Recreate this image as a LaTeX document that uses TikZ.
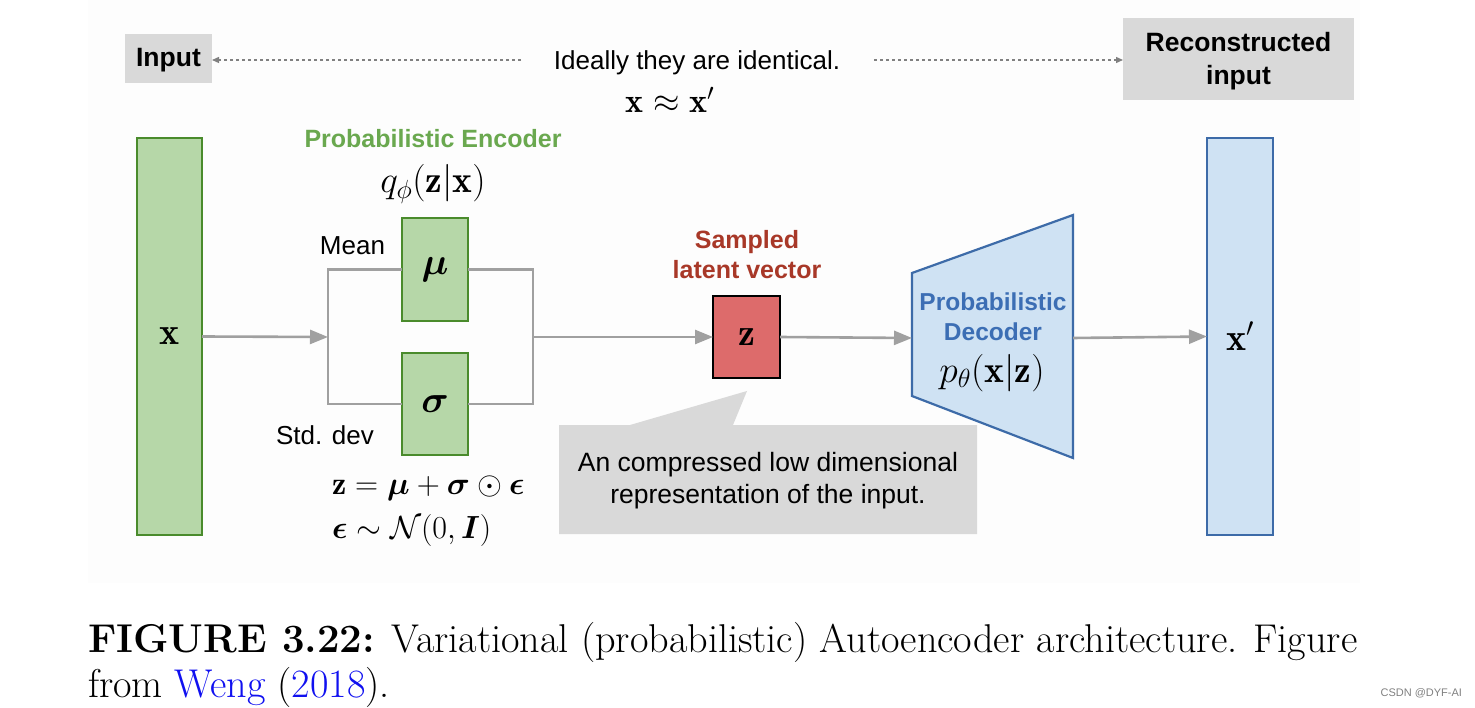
\RequirePackage{fix-cm}
\documentclass[tikz,border=0pt]{standalone}
\usepackage{amsmath}
\usepackage{bm}
\usepackage{fontspec}
\newfontfamily\arialf{Liberation Sans}
\usetikzlibrary{arrows.meta,calc}
\definecolor{greenf}{HTML}{B6D7A8}
\definecolor{greenb}{HTML}{4A8B2C}
\definecolor{greent}{HTML}{6AA84F}
\definecolor{bluef}{HTML}{CFE2F3}
\definecolor{blueb}{HTML}{3D6BA8}
\definecolor{bluet}{HTML}{3C6EB4}
\definecolor{redf}{HTML}{DD6B6B}
\definecolor{redt}{HTML}{A83828}
\definecolor{grayf}{HTML}{D9D9D9}
\definecolor{connc}{HTML}{A0A0A0}
\definecolor{linkblue}{HTML}{1010F0}
\newcommand{\myfs}[2]{\fontsize{#1}{#2}\selectfont}
\tikzset{
  every node/.style={inner sep=0pt, outer sep=0pt},
  gbox/.style={draw=greenb, fill=greenf, line width=2.2pt, minimum width=65pt},
  bbox/.style={draw=blueb, fill=bluef, line width=2.2pt, minimum width=66pt},
  graybox/.style={fill=grayf},
  graylab/.style={font=\arialf\bfseries\myfs{26.5}{33}, align=center},
  conn/.style={draw=connc, line width=2.6pt},
  arr/.style={conn, -{Triangle[length=18pt,width=14pt]}},
  dasharr/.style={draw=gray, line width=1.3pt, dash pattern=on 3pt off 3pt, -{Triangle[length=7pt,width=6pt]}},
  plain/.style={font=\arialf\myfs{26}{32}, align=center},
  boxmath/.style={font=\myfs{38}{40}},
}
\begin{document}
\begin{tikzpicture}[x=1pt,y=1pt]
\useasboundingbox (0,0) rectangle (1475,-708);
\fill[white!99.4!black] (88,0) rectangle (1360,-583);

% top row
\node[graybox, minimum width=87pt, minimum height=49pt] (input) at (168.5,-58.5) {};
\node[graylab] (inputlab) at (168.5,-60) {Input};
\node[graybox, minimum width=231pt, minimum height=82pt] (recon) at (1238.5,-59) {};
\node[graylab] (reconlab) at (1238.5,-61.5) {Reconstructed\\input};
\node[plain] (ideal) at (697,-63) {Ideally they are identical.};
\coordinate (dl) at (521,-60);
\coordinate (dr) at (874,-60);
\draw[dasharr] (dl) -- (input.east |- dl);
\draw[dasharr] (dr) -- (recon.west |- dr);
\node[font=\myfs{34}{36}] (approx) at (670,-100) {$\mathbf{x}\approx\mathbf{x}'$};

% encoder
\node[font=\arialf\bfseries\myfs{25}{30}, text=greent] (enclab) at (433,-139) {Probabilistic Encoder};
\node[font=\myfs{37.5}{40}] (qphi) at (433,-184) {$q_\phi(\mathbf{z}|\mathbf{x})$};
\node[gbox, minimum height=397pt, boxmath] (x) at (169.5,-336.5) {$\mathbf{x}$};
\node[gbox, minimum width=66pt, minimum height=103pt, boxmath] (mu) at (435,-269.5) {$\bm{\mu}$};
\node[gbox, minimum width=66pt, minimum height=102pt, boxmath] (sigma) at (435,-404) {$\bm{\sigma}$};
\node[plain, anchor=east] (mean) at (385,-246) {Mean};
\node[plain] (std) at (325,-435) {Std. dev};
\node[font=\myfs{32}{34}, anchor=west] (eq1) at (332,-488) {$\mathbf{z}=\bm{\mu}+\bm{\sigma}\odot\bm{\epsilon}$};
\node[font=\myfs{32}{34}, anchor=west] (eq2) at (332,-530) {$\bm{\epsilon}\sim\mathcal{N}(0,\bm{I})$};

\coordinate (sl) at (328,-337);
\coordinate (sr) at (533,-337);
\draw[arr] (x.east) -- (sl);
\draw[conn] (sl) |- (mu.west);
\draw[conn] (sl) |- (sigma.west);
\draw[conn] (mu.east) -| (sr);
\draw[conn] (sigma.east) -| (sr);

% latent
\node[draw=black, fill=redf, line width=2.2pt, minimum width=67pt, minimum height=82pt, boxmath] (z) at (746.5,-337) {$\mathbf{z}$};
\node[font=\arialf\bfseries\myfs{25}{30}, text=redt, align=center] (samp) at (747,-255) {Sampled\\latent vector};
\draw[arr] (sr) -- (z.west);

% callout
\fill[grayf] (559,-425) -- (630,-425) -- (747,-391) -- (733,-425) -- (977,-425) -- (977,-534) -- (559,-534) -- cycle;
\node[plain, font=\arialf\myfs{26.5}{32}] (callout) at (768,-481) {An compressed low dimensional\\representation of the input.};

% decoder
\draw[draw=blueb, fill=bluef, line width=2.2pt] (912,-273) -- (1073,-215) -- (1073,-458) -- (912,-396) -- cycle;
\coordinate (decL) at (912,-338);
\coordinate (decR) at (1073,-338);
\node[font=\arialf\bfseries\myfs{24.5}{30}, text=bluet, align=center] (declab) at (993,-317) {Probabilistic\\Decoder};
\node[font=\myfs{37.5}{40}] (ptheta) at (992,-373) {$p_\theta(\mathbf{x}|\mathbf{z})$};
\draw[arr] (z.east) -- (decL);

\node[bbox, minimum height=397pt, boxmath] (xp) at (1240,-336.5) {$\mathbf{x}'$};
\draw[arr] (decR) -- (xp.west);

% caption
\node[anchor=base west, font=\myfs{40.2}{45}] (cap1) at (88,-652) {\textbf{FIGURE 3.22:} Variational (probabilistic) Autoencoder architecture. Figure};
\node[anchor=base west, font=\myfs{40.2}{45}] (cap2) at (88,-697) {from {\color{linkblue}Weng} ({\color{linkblue}2018}).};
\node[anchor=base east, font=\arialf\myfs{11}{13}, text=gray] (wm) at (1462,-696) {CSDN @DYF-AI};
\end{tikzpicture}
\end{document}
